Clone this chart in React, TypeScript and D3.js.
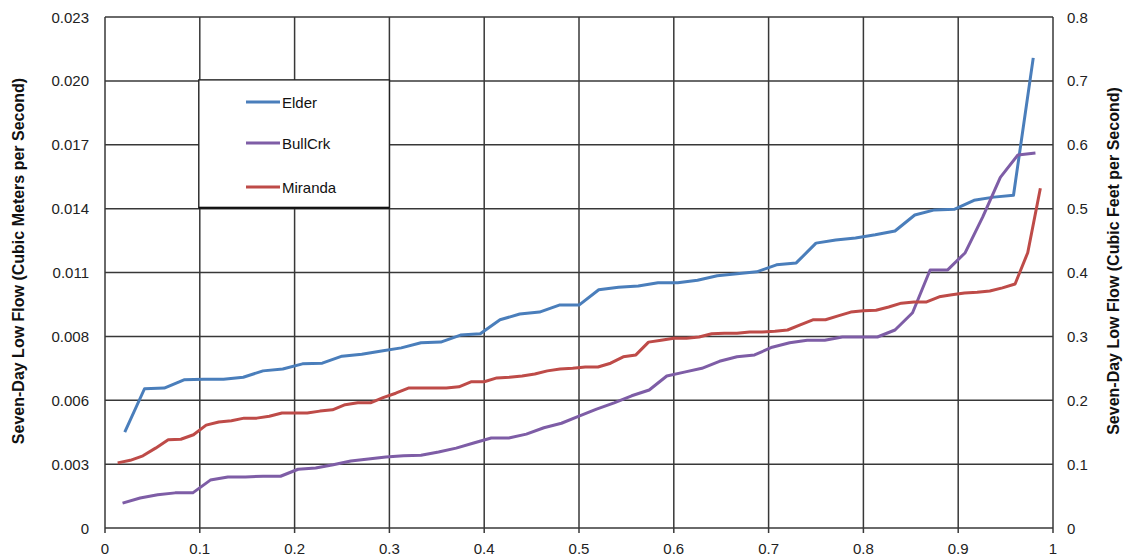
import React from "react";
import * as d3 from "d3";

// Seven-day low flow (cubic feet per second), ranked ascending
const elderValues = [
  0.150, 0.218, 0.219, 0.232, 0.233, 0.233, 0.236, 0.246, 0.249, 0.257,
  0.258, 0.269, 0.272, 0.277, 0.282, 0.290, 0.291, 0.302, 0.304, 0.326,
  0.335, 0.338, 0.349, 0.349, 0.373, 0.377, 0.379, 0.384, 0.384, 0.388,
  0.395, 0.398, 0.401, 0.412, 0.415, 0.446, 0.451, 0.454, 0.459, 0.465,
  0.490, 0.498, 0.499, 0.513, 0.518, 0.521, 0.736,
];
const bullCrkValues = [
  0.039, 0.047, 0.052, 0.055, 0.055, 0.075, 0.080, 0.080, 0.081, 0.081,
  0.092, 0.094, 0.099, 0.105, 0.108, 0.111, 0.113, 0.114, 0.119, 0.125,
  0.133, 0.141, 0.141, 0.147, 0.157, 0.164, 0.175, 0.186, 0.196, 0.207,
  0.216, 0.238, 0.244, 0.250, 0.261, 0.268, 0.271, 0.283, 0.290, 0.294,
  0.294, 0.299, 0.299, 0.299, 0.310, 0.337, 0.404, 0.404, 0.431, 0.487,
  0.549, 0.584, 0.587,
];
const mirandaValues = [
  0.102, 0.106, 0.113, 0.125, 0.138, 0.139, 0.146, 0.161, 0.166, 0.168,
  0.172, 0.172, 0.175, 0.180, 0.180, 0.180, 0.183, 0.185, 0.193, 0.196,
  0.196, 0.204, 0.211, 0.219, 0.219, 0.219, 0.219, 0.221, 0.229, 0.229,
  0.235, 0.236, 0.238, 0.241, 0.246, 0.249, 0.250, 0.252, 0.252, 0.258,
  0.268, 0.271, 0.291, 0.294, 0.297, 0.297, 0.299, 0.304, 0.305, 0.305,
  0.307, 0.307, 0.308, 0.310, 0.318, 0.326, 0.326, 0.332, 0.338, 0.340,
  0.341, 0.346, 0.352, 0.354, 0.354, 0.362, 0.365, 0.368, 0.369, 0.371,
  0.376, 0.382, 0.431, 0.532,
];

const seriesNames = ["Elder", "BullCrk", "Miranda"];
const seriesColors = ["#4A7EBB", "#7E5DA6", "#BE4B48"];

const xTicks = [0, 0.1, 0.2, 0.3, 0.4, 0.5, 0.6, 0.7, 0.8, 0.9, 1];
const xTickLabels = ["0", "0.1", "0.2", "0.3", "0.4", "0.5", "0.6", "0.7", "0.8", "0.9", "1"];
const cfsTicks = [0, 0.1, 0.2, 0.3, 0.4, 0.5, 0.6, 0.7, 0.8];
const cfsTickLabels = ["0", "0.1", "0.2", "0.3", "0.4", "0.5", "0.6", "0.7", "0.8"];
const cmsTickLabels = ["0", "0.003", "0.006", "0.008", "0.011", "0.014", "0.017", "0.020", "0.023"];

const leftTitle = "Seven-Day Low Flow (Cubic Meters per Second)";
const rightTitle = "Seven-Day Low Flow (Cubic Feet per Second)";

const FONT = "'Liberation Sans', Arial, sans-serif";

export default function App() {
  const W = 1123;
  const H = 556;
  const left = 105, right = 1053, top = 17, bottom = 528;

  const x = d3.scaleLinear().domain([0, 1]).range([left, right]);
  const y = d3.scaleLinear().domain([0, 0.8]).range([bottom, top]);

  // plotting position rank/(n+1)
  const toPoints = (vals: number[]) =>
    vals.map((v, i) => [(i + 1) / (vals.length + 1), v] as [number, number]);

  const allSeries = [elderValues, bullCrkValues, mirandaValues].map(toPoints);
  const line = d3
    .line<[number, number]>()
    .x((d) => x(d[0]))
    .y((d) => y(d[1]))
    .curve(d3.curveLinear);

  const gridColor = "#383838";

  // legend box aligned to grid cells
  const lgX0 = x(0.1) - 1, lgX1 = x(0.3), lgY0 = y(0.7) - 1, lgY1 = y(0.5) - 1;
  const legendYs = [102, 143, 187];

  return (
    <svg
      width={W}
      height={H}
      style={{ position: "absolute", left: 0, top: 0, background: "#fff" }}
      fontFamily={FONT}
    >
      <rect x={0} y={0} width={W} height={H} fill="#fff" />
      {/* horizontal grid */}
      {cfsTicks.map((t) => (
        <line key={"h" + t} x1={left} x2={right} y1={y(t)} y2={y(t)} stroke={gridColor} strokeWidth={1.5} />
      ))}
      {/* vertical grid with small ticks below */}
      {xTicks.map((t) => (
        <line key={"v" + t} x1={x(t)} x2={x(t)} y1={top} y2={bottom + 5} stroke={gridColor} strokeWidth={1.5} />
      ))}
      {/* series */}
      {allSeries.map((pts, i) => (
        <path
          key={seriesNames[i]}
          d={line(pts) || ""}
          fill="none"
          stroke={seriesColors[i]}
          strokeWidth={3}
          strokeLinejoin="round"
          strokeLinecap="butt"
        />
      ))}
      {/* legend */}
      <rect x={lgX0} y={lgY0} width={lgX1 - lgX0} height={lgY1 - lgY0} fill="#fff" stroke="#222" strokeWidth={1.4} />
      <line x1={lgX0} x2={lgX1} y1={lgY1} y2={lgY1} stroke="#111" strokeWidth={2} />
      {seriesNames.map((n, i) => (
        <g key={"lg" + n}>
          <line x1={246} x2={280} y1={legendYs[i]} y2={legendYs[i]} stroke={seriesColors[i]} strokeWidth={3} />
          <text x={282} y={legendYs[i]} dominantBaseline="central" fontSize={15} fill="#111">
            {n}
          </text>
        </g>
      ))}
      {/* x tick labels */}
      {xTicks.map((t, i) => (
        <text key={"xl" + t} x={x(t)} y={548} textAnchor="middle" dominantBaseline="central" fontSize={15} fill="#222">
          {xTickLabels[i]}
        </text>
      ))}
      {/* left tick labels */}
      {cfsTicks.map((t, i) => (
        <text key={"ll" + t} x={89} y={y(t)} textAnchor="end" dominantBaseline="central" fontSize={15} fill="#222">
          {cmsTickLabels[i]}
        </text>
      ))}
      {/* right tick labels */}
      {cfsTicks.map((t, i) => (
        <text key={"rl" + t} x={1067} y={y(t)} textAnchor="start" dominantBaseline="central" fontSize={15} fill="#222">
          {cfsTickLabels[i]}
        </text>
      ))}
      {/* axis titles */}
      <text
        transform={`translate(18, 261) rotate(-90)`}
        textAnchor="middle"
        dominantBaseline="central"
        fontSize={16}
        fontWeight="bold"
        fill="#111"
      >
        {leftTitle}
      </text>
      <text
        transform={`translate(1113, 261) rotate(-90)`}
        textAnchor="middle"
        dominantBaseline="central"
        fontSize={16}
        fontWeight="bold"
        fill="#111"
      >
        {rightTitle}
      </text>
    </svg>
  );
}
